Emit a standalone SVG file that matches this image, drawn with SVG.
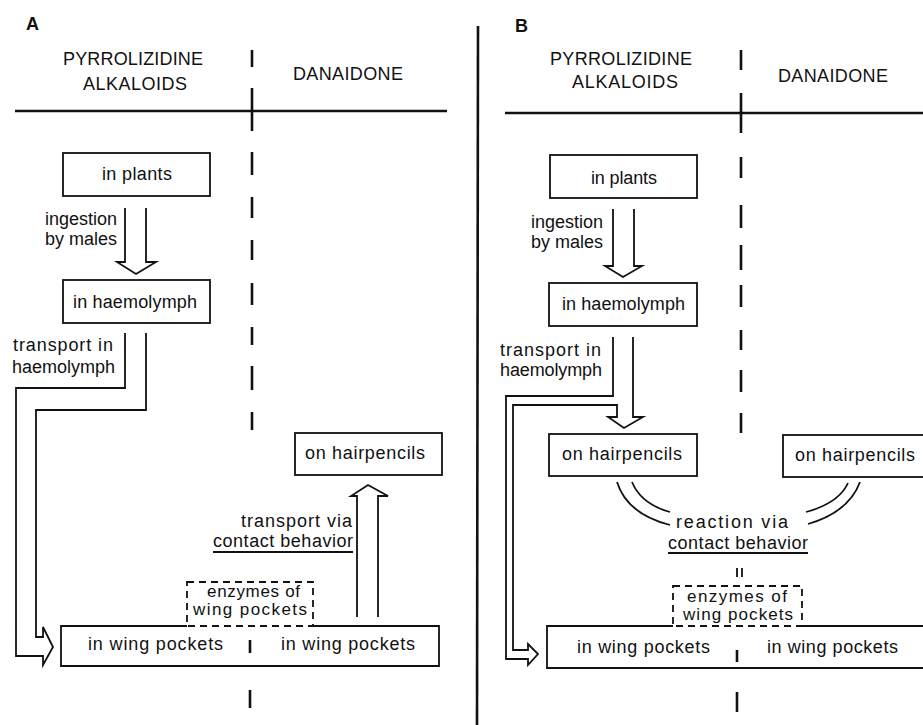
<svg xmlns="http://www.w3.org/2000/svg" width="923" height="725" viewBox="0 0 923 725">
<style>
text{font-family:"Liberation Sans",Arial,sans-serif;font-size:18px;fill:#111}
.t{font-weight:bold}
.s{font-size:17px}
.box{fill:#fff;stroke:#111;stroke-width:1.8}
.dbox{fill:#fff;stroke:#111;stroke-width:1.8;stroke-dasharray:7 5}
.ln{fill:none;stroke:#111;stroke-width:1.8}
.rule{fill:none;stroke:#111;stroke-width:2.6}
.sep{fill:none;stroke:#111;stroke-width:2.6}
</style>
<rect width="923" height="725" fill="#fff"/>

<!-- frame / rules -->
<g id="rules">
  <line class="rule" x1="15" y1="111" x2="447" y2="111"/>
  <line class="rule" x1="505" y1="113" x2="923" y2="113"/>
  <line class="rule" x1="478" y1="26" x2="477" y2="725"/>
  <path class="sep" d="M252,50V67M252,88V131M252,152V175M252,197V218M252,240V260M252,283V305M252,327V345M252,366V390M252,412V430M250,690V708"/>
  <path class="sep" d="M741,50V70M741,93V133M741,157V178M741,205V228M741,245V270M741,285V307M741,330V350M741,370V392M741,413V433M737,692V712"/>
</g>

<!-- headers -->
<g id="headers">
  <text class="t" x="26" y="30">A</text>
  <text x="63" y="65" textLength="140">PYRROLIZIDINE</text>
  <text x="83" y="90" textLength="104">ALKALOIDS</text>
  <text x="293" y="80" textLength="110">DANAIDONE</text>
  <text class="t" x="515" y="32">B</text>
  <text x="550" y="65" textLength="142">PYRROLIZIDINE</text>
  <text x="572" y="88" textLength="106">ALKALOIDS</text>
  <text x="778" y="82" textLength="110">DANAIDONE</text>
</g>

<!-- Panel A nodes -->
<g id="a-plants">
  <rect class="box" x="63" y="153" width="147" height="43"/>
  <text x="102" y="180" textLength="70">in plants</text>
</g>
<g id="a-haemolymph">
  <rect class="box" x="63" y="280" width="147" height="43"/>
  <text x="73" y="308" textLength="124">in haemolymph</text>
</g>
<g id="a-hairpencils">
  <rect class="box" x="295" y="433" width="147" height="42"/>
  <text x="305" y="459" textLength="120">on hairpencils</text>
</g>
<g id="a-wingpockets">
  <path class="ln" d="M187,626H61V666H439V626H313"/>
  <text x="88" y="650" textLength="135">in wing pockets</text>
  <line class="rule" x1="250" y1="640" x2="250" y2="653"/>
  <text x="281" y="650" textLength="134">in wing pockets</text>
</g>
<g id="a-enzymes">
  <rect class="dbox" x="187" y="582" width="126" height="44"/>
  <text class="s" x="207" y="597" textLength="93">enzymes of</text>
  <text class="s" x="193" y="615" textLength="114">wing pockets</text>
</g>

<!-- Panel B nodes -->
<g id="b-plants">
  <rect class="box" x="550" y="155" width="147" height="43"/>
  <text x="591" y="184" textLength="66">in plants</text>
</g>
<g id="b-haemolymph">
  <rect class="box" x="549" y="283" width="148" height="43"/>
  <text x="562" y="310" textLength="123">in haemolymph</text>
</g>
<g id="b-hairpencils-pa">
  <rect class="box" x="549" y="434" width="148" height="42"/>
  <text x="562" y="460" textLength="120">on hairpencils</text>
</g>
<g id="b-hairpencils-d">
  <rect class="box" x="783" y="435" width="160" height="42"/>
  <text x="795" y="461" textLength="120">on hairpencils</text>
</g>
<g id="b-wingpockets">
  <path class="ln" d="M673,626H547V668H930M930,626H802"/>
  <text x="577" y="653" textLength="133">in wing pockets</text>
  <line class="rule" x1="737" y1="650" x2="737" y2="662"/>
  <text x="767" y="653" textLength="131">in wing pockets</text>
</g>
<g id="b-enzymes">
  <rect class="dbox" x="673" y="586" width="129" height="40"/>
  <text class="s" x="687" y="602" textLength="100">enzymes of</text>
  <text class="s" x="683" y="620" textLength="110">wing pockets</text>
</g>

<!-- connectors -->
<g id="connectors">
  <path class="ln" d="M125,208V262H117L136,274L156,262H146V208"/>
  <path class="ln" d="M125,333V388H16V656H43V665L53,647L43,627V637H36V410H146V333"/>
  <path class="ln" d="M357,617V496H351L368,485L388,496H378V617"/>
  <path class="ln" d="M613,209V266H605L623,277L642,266H634V209"/>
  <path class="ln" d="M613,337V396H506V659H528V665L538,654L528,644V650H513V405H617V417H608L624,428L643,417H633V337"/>
  <path class="ln" d="M617,482Q627,514 670,525"/>
  <path class="ln" d="M632,482Q641,504 670,512"/>
  <path class="ln" d="M860,482Q849,512 808,524"/>
  <path class="ln" d="M848,483Q839,503 806,512"/>
  <path class="ln" d="M737,568V577M742,568V577"/>
</g>

<!-- connector labels -->
<g id="labels">
  <text x="117" y="225" text-anchor="end">ingestion</text>
  <text x="117" y="245" text-anchor="end">by males</text>
  <text x="13" y="351" textLength="100">transport in</text>
  <text x="12" y="373" textLength="103">haemolymph</text>
  <text x="241" y="527" textLength="111">transport via</text>
  <text x="213" y="547" textLength="140">contact behavior</text>
  <line class="ln" x1="213" y1="552" x2="353" y2="552"/>
  <text x="603" y="228" text-anchor="end">ingestion</text>
  <text x="603" y="248" text-anchor="end">by males</text>
  <text x="500" y="356" textLength="101">transport in</text>
  <text x="500" y="376" textLength="102">haemolymph</text>
  <text x="676" y="528" textLength="112">reaction via</text>
  <text x="668" y="549" textLength="140">contact behavior</text>
  <line class="ln" x1="668" y1="553" x2="808" y2="553"/>
</g>
</svg>
